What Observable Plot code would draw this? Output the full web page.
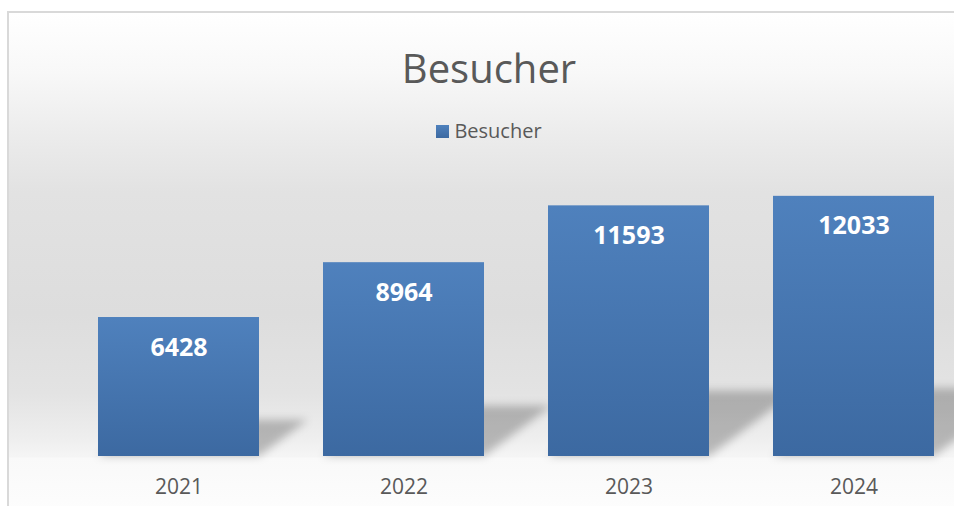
<!DOCTYPE html>
<html>
<head>
<meta charset="utf-8">
<script src="https://cdn.jsdelivr.net/npm/d3@7"></script>
<script src="https://cdn.jsdelivr.net/npm/@observablehq/plot@0.6"></script>
<style>
  html, body { margin: 0; padding: 0; width: 954px; height: 506px; overflow: hidden; background: #ffffff; }
  #chart {
    position: absolute; left: 7px; top: 11px; width: 960px; height: 520px;
    border-left: 2px solid #d9d9d9; border-top: 2px solid #d9d9d9;
    background: linear-gradient(to bottom,
      #ffffff 0px, #f8f8f8 60px, #ececec 120px, #e2e2e2 180px, #dddddd 300px,
      #e3e3e3 380px, #eeeeee 425px, #f5f5f5 444px, #f9f9f9 445px, #fdfdfd 500px);
    font-family: "Open Sans", sans-serif; color: #595959;
  }
  #title { padding-top: 27px; height: 56px; line-height: 56px; font-size: 40px; text-align: center; }
  #legend { margin-top: 21px; height: 28px; line-height: 28px; font-size: 20px; text-align: center; }
  #legend .sw { display: inline-block; width: 13px; height: 13px; margin-right: 5px; vertical-align: baseline;
    background: linear-gradient(to bottom, #4f81bd, #3c69a1); }
  #plot svg { display: block; }
</style>
</head>
<body>
<div id="chart">
  <div id="title">Besucher</div>
  <div id="legend"><span class="sw"></span>Besucher</div>
  <div id="plot"></div>
</div>
<script>
const seriesName = "Besucher";
const years = ["2021", "2022", "2023", "2024"];
const visitors = [6428, 8964, 11593, 12033];

const data = years.map((year, i) => ({year, value: visitors[i]}));

// perspective shadow: the bars themselves, skewed back-right and blurred
function shadowRender(index, scales, values, dimensions, context, next) {
  const g = next(index, scales, values, dimensions, context);
  const base = scales.y(0);
  const t = g.getAttribute("transform") || "";
  g.setAttribute("transform", `translate(0,${base}) matrix(1,0,-0.35,0.26,0,0) translate(0,${-base}) ${t}`);
  const wrap = document.createElementNS("http://www.w3.org/2000/svg", "g");
  wrap.setAttribute("style", "filter: blur(4px)");
  wrap.appendChild(g);
  return wrap;
}

const plot = Plot.plot({
  width: 960,
  height: 361,
  marginTop: 8.3,
  marginBottom: 50,
  marginLeft: 0,
  marginRight: 0,
  style: {background: "transparent", color: "#595959", fontFamily: "Open Sans", overflow: "visible"},
  x: {domain: years, range: [56.7, 957.6], paddingInner: 0.286, paddingOuter: 0.143, label: null},
  y: {domain: [0, 14000], axis: null},
  marks: [
    Plot.barY(data, {x: "year", y: "value", fill: "#000000", fillOpacity: 0.24, render: shadowRender}),
    Plot.barY(data, {x: "year", y: "value", fill: "url(#barGrad)"}),
    Plot.text(data, {x: "year", y: "value", text: d => String(d.value), dy: 30, fill: "#ffffff",
      fontSize: 25, fontWeight: "bold", fontFamily: "Open Sans"}),
    Plot.axisX({tickSize: 0, tickPadding: 23, fontSize: 21, fill: "#595959", label: null})
  ]
});

document.getElementById("plot").appendChild(plot);

d3.select(plot).insert("defs", ":first-child").html(
  '<linearGradient id="barGrad" x1="0" y1="0" x2="0" y2="1">' +
  '<stop offset="0" stop-color="#4f81bd"/><stop offset="1" stop-color="#3c69a1"/></linearGradient>'
);
</script>
</body>
</html>
